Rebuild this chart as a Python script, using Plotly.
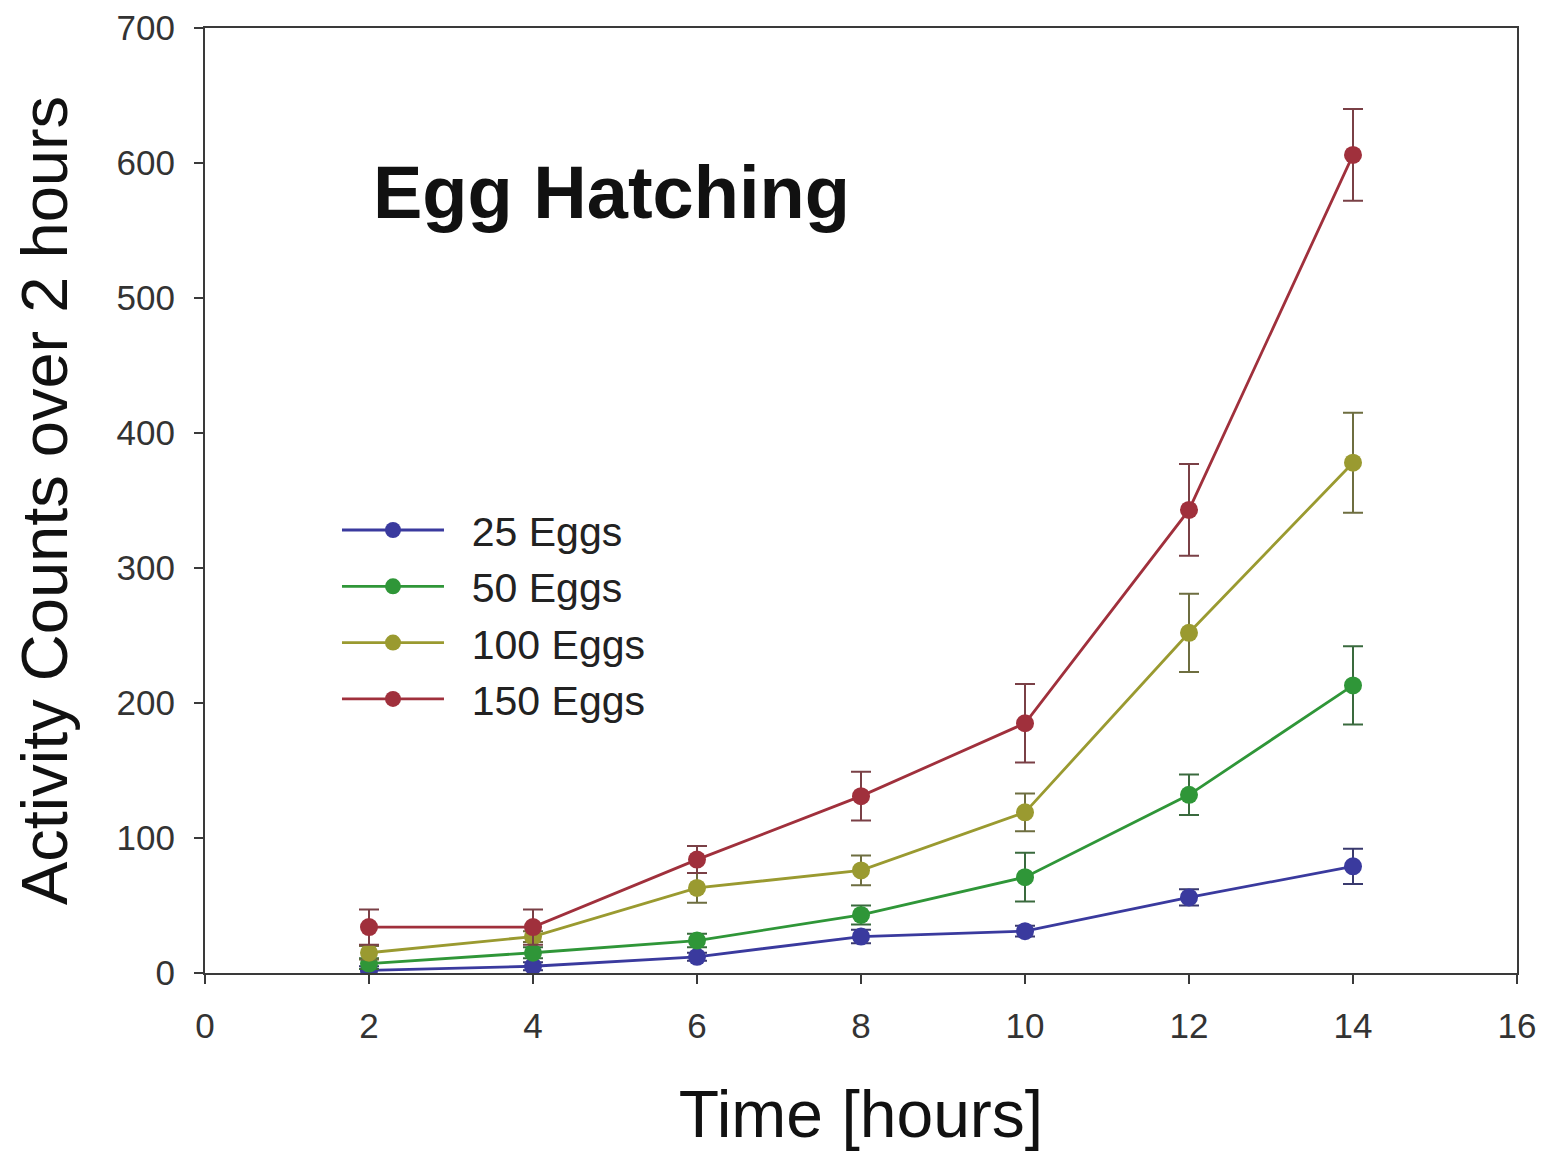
import plotly.graph_objects as go

time_h = [2, 4, 6, 8, 10, 12, 14]
series_names = ["25 Eggs", "50 Eggs", "100 Eggs", "150 Eggs"]
eggs25 = [2, 5, 12, 27, 31, 56, 79]
eggs25_err = [3, 3, 3, 5, 4, 6, 13]
eggs50 = [7, 15, 24, 43, 71, 132, 213]
eggs50_err = [4, 4, 5, 7, 18, 15, 29]
eggs100 = [15, 27, 63, 76, 119, 252, 378]
eggs100_err = [5, 4, 11, 11, 14, 29, 37]
eggs150 = [34, 34, 84, 131, 185, 343, 606]
eggs150_err = [13, 13, 10, 18, 29, 34, 34]

values = [eggs25, eggs50, eggs100, eggs150]
errors = [eggs25_err, eggs50_err, eggs100_err, eggs150_err]
colors = ["#3a3a9e", "#2f9638", "#9a9a30", "#a0303c"]
err_colors = ["#3a3a6e", "#3a6a3e", "#6e6e40", "#7a4046"]

fig = go.Figure()
for name, v, e, c, ec in zip(series_names, values, errors, colors, err_colors):
    fig.add_trace(go.Scatter(
        x=time_h, y=v, name="\u00a0\u00a0" + name, mode="lines+markers",
        line=dict(color=c, width=2.8),
        marker=dict(color=c, size=18),
        error_y=dict(type="data", array=e, visible=True, color=ec, thickness=2, width=10),
    ))

font_family = "Liberation Sans, Arial, sans-serif"
fig.update_layout(
    width=1544, height=1154,
    margin=dict(l=197, r=35, t=20, b=189),
    paper_bgcolor="white", plot_bgcolor="white",
    font=dict(family=font_family, color="#222"),
    showlegend=True,
    legend=dict(x=0.1006, y=0.379, xanchor="left", yanchor="middle",
                font=dict(size=41, family=font_family, color="#222"),
                bgcolor="rgba(0,0,0,0)", tracegroupgap=0, itemwidth=102),
    xaxis=dict(range=[0, 16], dtick=2, tick0=0, showgrid=False, zeroline=False,
               automargin=False,
               showline=True, linecolor="#3a3a3a", linewidth=2, mirror=True,
               ticks="outside", ticklen=9, tickwidth=2, tickcolor="#3a3a3a",
               ticklabelstandoff=12,
               tickfont=dict(size=35, color="#333"),
               title=dict(text="Time [hours]", font=dict(size=66, color="#111"), standoff=47)),
    yaxis=dict(range=[0, 700], dtick=100, tick0=0, showgrid=False, zeroline=False,
               automargin=False,
               showline=True, linecolor="#3a3a3a", linewidth=2, mirror=True,
               ticks="outside", ticklen=9, tickwidth=2, tickcolor="#3a3a3a",
               ticklabelstandoff=12,
               tickfont=dict(size=35, color="#333"),
               title=dict(text="Activity Counts over 2 hours", font=dict(size=65, color="#111"), standoff=30)),
    annotations=[dict(text="<b>Egg Hatching</b>", x=2.03, y=578, xref="x", yref="y",
                      xanchor="left", yanchor="middle", showarrow=False,
                      font=dict(size=74, color="#111", family=font_family))],
)

fig.write_html("out.html")
